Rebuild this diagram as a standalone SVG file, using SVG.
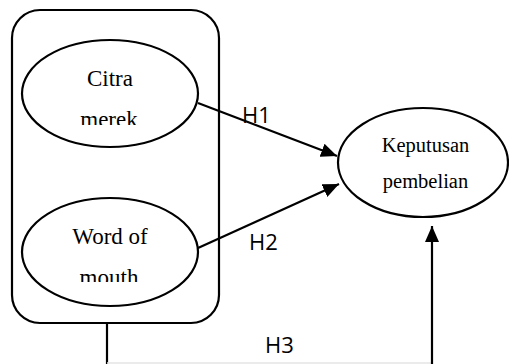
<svg xmlns="http://www.w3.org/2000/svg" width="509" height="364" viewBox="0 0 509 364">
<style>
.shape{fill:#fff;stroke:#000;stroke-width:2.2}
.lbl{font-family:"Liberation Serif","Times New Roman",serif;fill:#000;text-anchor:middle}
.h{font-family:"Open Sans","Liberation Sans",sans-serif;font-size:22px;fill:#000}
.conn{stroke:#000;stroke-width:2.2;fill:none}
</style>
<defs>
<marker id="arr" markerUnits="userSpaceOnUse" markerWidth="16" markerHeight="14" refX="16" refY="7" orient="auto">
<path d="M0,0 L16,7 L0,14 z" fill="#000"/>
</marker>
<clipPath id="c1"><rect x="0" y="0" width="509" height="125"/></clipPath>
<clipPath id="c2"><rect x="0" y="150" width="509" height="132"/></clipPath>
</defs>
<g id="group-box">
<rect class="shape" x="12" y="10" width="207" height="313" rx="28" ry="28"/>
</g>
<g id="connectors">
<line class="conn" x1="198" y1="103" x2="337" y2="156" marker-end="url(#arr)"/>
<line class="conn" x1="198" y1="248" x2="339" y2="184" marker-end="url(#arr)"/>
<line class="conn" x1="107" y1="323" x2="107" y2="364"/>
<line x1="107" y1="363" x2="432" y2="363" stroke="#e4e4e4" stroke-width="1.5"/>
<line class="conn" x1="432" y1="364" x2="432" y2="226" marker-end="url(#arr)"/>
<text class="h" x="242" y="123">H1</text>
<text class="h" x="249" y="250">H2</text>
<text class="h" x="265" y="353">H3</text>
</g>
<g id="node-citra">
<ellipse class="shape" cx="110" cy="93.5" rx="88" ry="53.5"/>
<text class="lbl" x="110" y="86" font-size="23">Citra</text>
<text class="lbl" x="109" y="127" font-size="23" clip-path="url(#c1)">merek</text>
</g>
<g id="node-wom">
<ellipse class="shape" cx="110" cy="252" rx="88" ry="54"/>
<text class="lbl" x="110" y="244" font-size="23">Word of</text>
<text class="lbl" x="109" y="285" font-size="23" clip-path="url(#c2)">mouth</text>
</g>
<g id="node-keputusan">
<ellipse class="shape" cx="423" cy="162.5" rx="85" ry="54.5"/>
<text class="lbl" x="425.5" y="152" font-size="20.5">Keputusan</text>
<text class="lbl" x="425.5" y="188" font-size="20.5">pembelian</text>
</g>
</svg>
